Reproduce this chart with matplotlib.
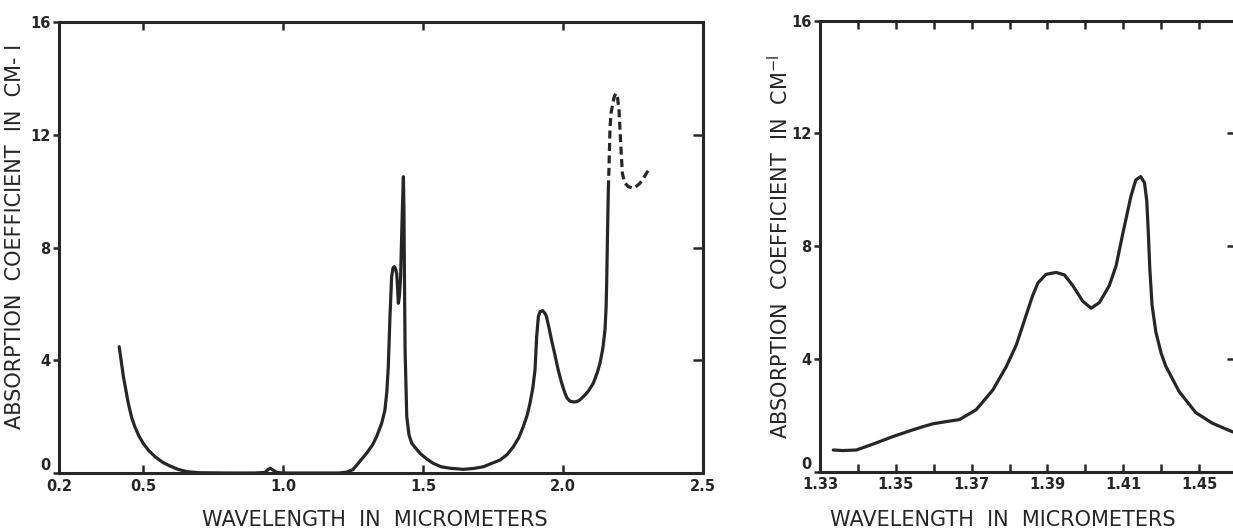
import matplotlib
matplotlib.use("Agg")
import matplotlib.pyplot as plt

# ---- data: left panel (full spectrum) ----
wl_full = [0.415, 0.43, 0.4475, 0.46, 0.471, 0.485, 0.501, 0.52, 0.543, 0.57, 0.596, 0.625, 0.656,
           0.70, 0.80, 0.90, 0.936, 0.946, 0.954, 0.965, 0.978, 1.0, 1.1, 1.2, 1.227, 1.25, 1.275,
           1.30, 1.32, 1.3346, 1.352, 1.364, 1.371, 1.376, 1.382, 1.388, 1.393, 1.3975, 1.402, 1.406,
           1.409, 1.412, 1.416, 1.420, 1.424, 1.427, 1.43, 1.432, 1.433, 1.436, 1.442, 1.45,
           1.46, 1.489, 1.513, 1.537, 1.565, 1.596, 1.644, 1.68, 1.715, 1.775, 1.80, 1.8225,
           1.842, 1.858, 1.872, 1.882, 1.892, 1.90, 1.906, 1.912, 1.918, 1.927, 1.936, 1.941,
           1.95, 1.959, 1.971, 1.983, 1.995, 2.007, 2.015, 2.025, 2.037, 2.049, 2.061, 2.073,
           2.09, 2.108, 2.122, 2.132, 2.142, 2.15, 2.154, 2.156, 2.159, 2.162]
abs_full = [4.48, 3.42, 2.47, 1.95, 1.64, 1.32, 1.05, 0.80, 0.58, 0.38, 0.25, 0.13, 0.05,
            0.01, 0.0, 0.0, 0.02, 0.12, 0.17, 0.10, 0.02, 0.0, 0.0, 0.0, 0.03, 0.12, 0.42,
            0.72, 1.0, 1.3, 1.75, 2.23, 2.9, 3.77, 5.54, 6.96, 7.28, 7.32, 7.25, 7.08,
            6.6, 6.02, 6.3, 6.96, 8.5, 9.6, 10.51, 9.3, 7.9, 4.36, 2.0, 1.35,
            1.05, 0.70, 0.50, 0.34, 0.22, 0.17, 0.13, 0.16, 0.22, 0.46, 0.65, 0.93,
            1.25, 1.64, 2.05, 2.47, 3.0, 3.65, 4.84, 5.55, 5.72, 5.76, 5.66, 5.55,
            5.15, 4.72, 4.2, 3.65, 3.2, 2.83, 2.65, 2.55, 2.52, 2.53, 2.6, 2.71,
            2.9, 3.18, 3.55, 3.89, 4.4, 5.07, 5.9, 6.73, 8.5, 10.1]
wl_dash = [2.162, 2.164, 2.168, 2.172, 2.177, 2.183, 2.189, 2.195, 2.20, 2.206, 2.212, 2.22,
           2.233, 2.251, 2.263, 2.275, 2.29, 2.305]
abs_dash = [10.1, 10.75, 12.28, 12.8, 13.05, 13.35, 13.47, 13.3, 12.88, 11.7, 10.63, 10.3,
            10.16, 10.1, 10.18, 10.28, 10.5, 10.75]

# ---- data: right panel (1.4 um band detail) ----
wl_band = [1.3335, 1.336, 1.3396, 1.344, 1.3493, 1.3537, 1.3572, 1.3598, 1.3625, 1.3668, 1.3712,
           1.3756, 1.3791, 1.3818, 1.384, 1.3861, 1.3875, 1.3896, 1.3923, 1.3945, 1.3967, 1.3993,
           1.4015, 1.4037, 1.4063, 1.4081, 1.4098, 1.412, 1.4133, 1.4146, 1.4156, 1.4162, 1.4166,
           1.4170, 1.4176, 1.4186, 1.42, 1.4212, 1.4247, 1.4291, 1.4335, 1.4387, 1.445]
abs_band = [0.77, 0.75, 0.77, 0.98, 1.25, 1.45, 1.6, 1.7, 1.76, 1.85, 2.2,
            2.9, 3.72, 4.5, 5.4, 6.25, 6.7, 7.0, 7.07, 6.98, 6.6, 6.05,
            5.8, 6.0, 6.6, 7.3, 8.4, 9.76, 10.35, 10.47, 10.25, 9.6, 8.5,
            7.2, 5.9, 4.95, 4.2, 3.75, 2.85, 2.1, 1.72, 1.42, 1.2]

left_xticks = [0.2, 0.5, 1.0, 1.5, 2.0, 2.5]
left_xlabels = ["0.2", "0.5", "1.0", "1.5", "2.0", "2.5"]
right_xticks = [1.33, 1.35, 1.37, 1.39, 1.41, 1.43]
right_xlabels = ["1.33", "1.35", "1.37", "1.39", "1.41", "1.45"]
right_minor = [1.34, 1.36, 1.38, 1.40, 1.42]
yticks = [0, 4, 8, 12, 16]
ylabels = ["0", "4", "8", "12", "16"]
inner_yticks = [4, 8, 12]

ink = "#262626"
W, H = 1233, 530
fig = plt.figure(figsize=(W / 100, H / 100), dpi=100)
fig.patch.set_facecolor("white")

axL = fig.add_axes([59 / W, 57 / H, (703 - 59) / W, (473 - 22) / H])
axR = fig.add_axes([820 / W, 58.3 / H, (1237 - 820) / W, (471.7 - 20.7) / H])

tickfont = dict(fontsize=10.5, fontweight="bold", color=ink)

for ax in (axL, axR):
    for s in ax.spines.values():
        s.set_linewidth(2.2)
        s.set_color(ink)
    ax.set_ylim(0, 16)
    ax.set_yticks(yticks)
    ax.set_yticklabels(ylabels, **tickfont)
    ax.tick_params(axis="y", which="both", direction="out", length=4, width=1.8,
                   color=ink, right=False, pad=2)
    # lift the "0" label a little so it sits above the first x label
    ax.get_yticklabels()[0].set_verticalalignment("bottom")
    sec = ax.secondary_yaxis("right")
    sec.set_yticks(inner_yticks)
    sec.tick_params(axis="y", direction="in", length=7, width=1.8, color=ink, labelright=False)
    sec.spines["right"].set_visible(False)

# left panel
axL.plot(wl_full, abs_full, color=ink, lw=2.3, solid_joinstyle="round", solid_capstyle="round")
axL.plot(wl_dash, abs_dash, color=ink, lw=2.3, linestyle=(0, (2.5, 1.4)))
axL.set_xlim(0.2, 2.5)
axL.set_xticks(left_xticks)
axL.set_xticklabels(left_xlabels, **tickfont)
axL.tick_params(axis="x", direction="in", length=6, width=1.8, color=ink, top=True, pad=4)

# right panel
axR.plot(wl_band, abs_band, color=ink, lw=2.3, solid_joinstyle="round", solid_capstyle="round")
axR.set_xlim(1.33, 1.44)
axR.set_xticks(right_xticks)
axR.set_xticklabels(right_xlabels, **tickfont)
axR.set_xticks(right_minor, minor=True)
axR.tick_params(axis="x", which="both", direction="in", length=6, width=1.8, color=ink,
                top=True, pad=4)

labfont = dict(fontsize=15, color=ink, fontfamily="DejaVu Sans")
fig.text(15 / W, 1 - 236 / H, "ABSORPTION  COEFFICIENT  IN  CM- I", rotation=90,
         ha="center", va="center", **labfont)
fig.text(780 / W, 1 - 247 / H, "ABSORPTION  COEFFICIENT  IN  CM$^{-\\mathrm{I}}$", rotation=90,
         ha="center", va="center", **labfont)
fig.text(375 / W, 1 - 520 / H, "WAVELENGTH  IN  MICROMETERS", ha="center", va="center", **labfont)
fig.text(1003 / W, 1 - 520 / H, "WAVELENGTH  IN  MICROMETERS", ha="center", va="center", **labfont)

fig.savefig("out.png", dpi=100, facecolor="white")
